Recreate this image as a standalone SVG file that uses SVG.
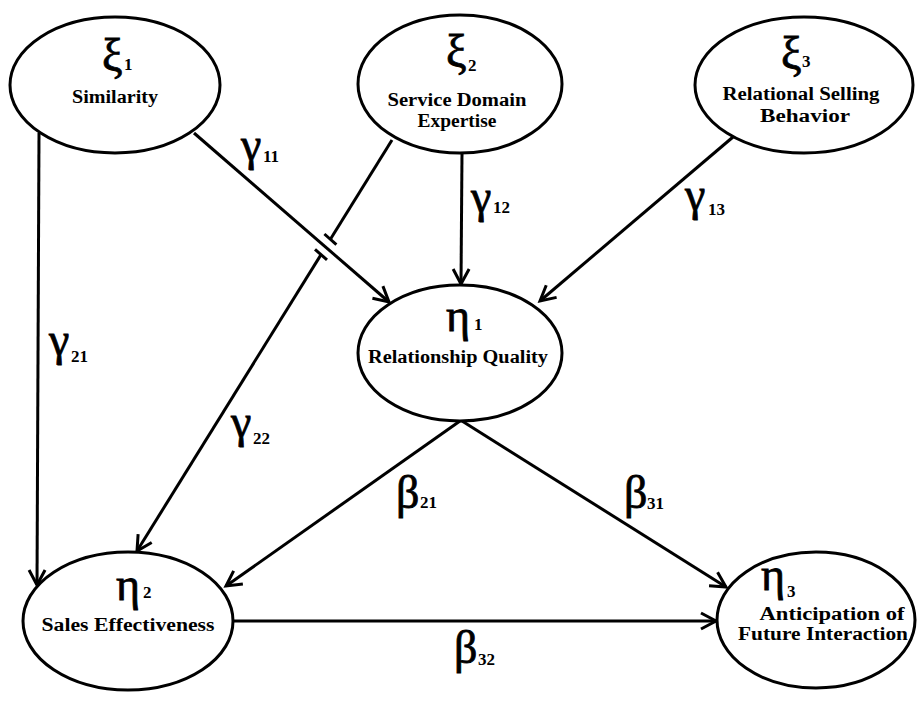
<svg xmlns="http://www.w3.org/2000/svg" width="917" height="717" viewBox="0 0 917 717">
<defs>
<marker id="arr" markerUnits="userSpaceOnUse" markerWidth="30" markerHeight="30" refX="0" refY="0" orient="auto" overflow="visible">
<path d="M-15,-8 L0,0 L-15,8" fill="none" stroke="#000" stroke-width="3" stroke-linejoin="miter"/>
</marker>
</defs>
<style>
.node ellipse{fill:#fff;stroke:#000;stroke-width:3}
.lbl{font-family:"Liberation Serif",serif;font-weight:bold;font-size:18px;fill:#000;text-anchor:middle}
.gk{font-family:"Liberation Serif","DejaVu Serif",serif;font-size:46px;fill:#000;stroke:#000;stroke-width:0.8}
.sub{font-family:"Liberation Serif",serif;font-weight:bold;font-size:17px;fill:#000}
.con line{stroke:#000;stroke-width:3;fill:none}
.arrow{marker-end:url(#arr)}
.coef{font-family:"Liberation Serif","DejaVu Serif",serif;font-size:46px;fill:#000;stroke:#000;stroke-width:0.8}
</style>
<rect width="917" height="717" fill="#fff"/>
<g id="connectors" class="con">
<line class="arrow" x1="39" y1="133" x2="37" y2="585"/>
<line class="arrow" x1="194" y1="133" x2="389" y2="302"/>
<line class="arrow" x1="462" y1="153" x2="461" y2="284"/>
<line x1="392" y1="140" x2="330.4" y2="239.3"/>
<line class="arrow" x1="321" y1="254.6" x2="137" y2="551"/>
<line x1="324.4" y1="234" x2="336.4" y2="244.6"/>
<line x1="315" y1="249.3" x2="327" y2="259.9"/>
<line class="arrow" x1="733" y1="137" x2="540" y2="301"/>
<line class="arrow" x1="460" y1="421" x2="226" y2="586"/>
<line class="arrow" x1="462" y1="421" x2="726" y2="587"/>
<line class="arrow" x1="233" y1="621" x2="716" y2="621"/>
</g>
<g id="xi1" class="node">
<ellipse cx="115" cy="85" rx="105" ry="68"/>
<text class="gk" x="102" y="71">ξ</text><text class="sub" x="124" y="70">1</text>
<text class="lbl" x="115" y="103" textLength="86" lengthAdjust="spacingAndGlyphs">Similarity</text>
</g>
<g id="xi2" class="node">
<ellipse cx="460" cy="84" rx="102" ry="69"/>
<text class="gk" x="446" y="67">ξ</text><text class="sub" x="468" y="71">2</text>
<text class="lbl" x="457" y="106" textLength="139" lengthAdjust="spacingAndGlyphs">Service Domain</text>
<text class="lbl" x="457" y="127" textLength="79" lengthAdjust="spacingAndGlyphs">Expertise</text>
</g>
<g id="xi3" class="node">
<ellipse cx="804" cy="85" rx="109" ry="68"/>
<text class="gk" x="781" y="69">ξ</text><text class="sub" x="802" y="67">3</text>
<text class="lbl" x="801" y="100" textLength="157" lengthAdjust="spacingAndGlyphs">Relational Selling</text>
<text class="lbl" x="805" y="122" textLength="90" lengthAdjust="spacingAndGlyphs">Behavior</text>
</g>
<g id="eta1" class="node">
<ellipse cx="460" cy="353" rx="102" ry="68"/>
<text class="gk" x="446" y="331">η</text><text class="sub" x="474" y="330">1</text>
<text class="lbl" x="458" y="363" textLength="180" lengthAdjust="spacingAndGlyphs">Relationship Quality</text>
</g>
<g id="eta2" class="node">
<ellipse cx="128" cy="621" rx="105" ry="69"/>
<text class="gk" x="116" y="600">η</text><text class="sub" x="143" y="598">2</text>
<text class="lbl" x="128" y="631" textLength="173" lengthAdjust="spacingAndGlyphs">Sales Effectiveness</text>
</g>
<g id="eta3" class="node">
<ellipse cx="816" cy="620" rx="99" ry="68"/>
<text class="gk" x="761" y="590">η</text><text class="sub" x="787" y="597">3</text>
<text class="lbl" x="832" y="620" textLength="145" lengthAdjust="spacingAndGlyphs">Anticipation of</text>
<text class="lbl" x="823" y="640" textLength="170" lengthAdjust="spacingAndGlyphs">Future Interaction</text>
</g>
<g id="coefficients">
<text class="coef" x="241" y="160">γ</text><text class="sub" x="263" y="162">11</text>
<text class="coef" x="471" y="212">γ</text><text class="sub" x="493" y="213">12</text>
<text class="coef" x="685" y="210">γ</text><text class="sub" x="708" y="215">13</text>
<text class="coef" x="49" y="355">γ</text><text class="sub" x="71" y="362">21</text>
<text class="coef" x="231" y="437">γ</text><text class="sub" x="253" y="444">22</text>
<text class="coef" x="396" y="508">β</text><text class="sub" x="420" y="508">21</text>
<text class="coef" x="624" y="508">β</text><text class="sub" x="647" y="509">31</text>
<text class="coef" x="454" y="663">β</text><text class="sub" x="478" y="665">32</text>
</g>
</svg>
